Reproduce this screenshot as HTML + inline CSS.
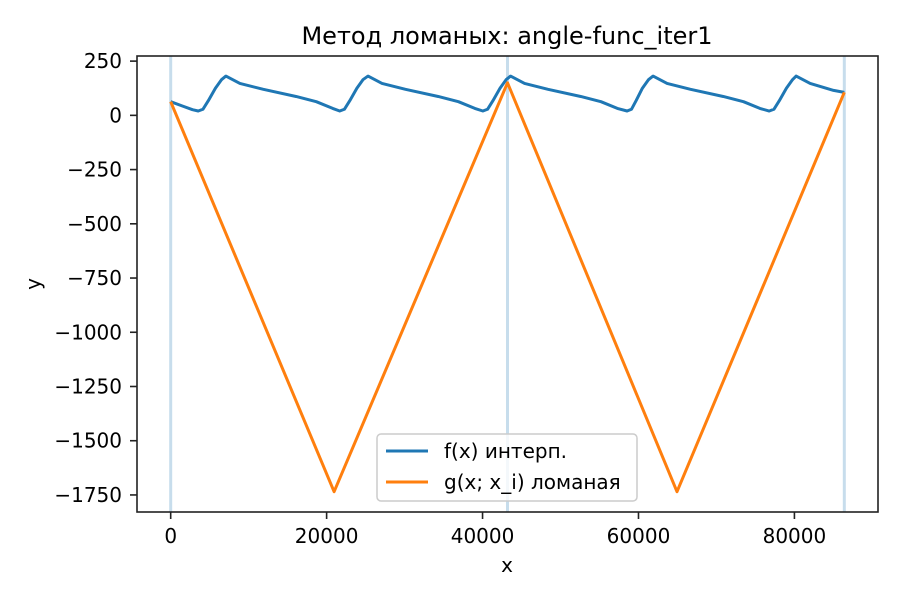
<!DOCTYPE html>
<html><head><meta charset="utf-8"><style>
body{margin:0;background:#fff}
svg text{font-family:"DejaVu Sans","Liberation Sans",sans-serif;fill:#000}
</style></head><body>
<svg id="chart" width="900" height="600" xmlns="http://www.w3.org/2000/svg">
<rect width="900" height="600" fill="#fff"/>
<text x="507" y="44" font-size="24" text-anchor="middle">Метод ломаных: angle-func_iter1</text>
<text x="507" y="572" font-size="20" text-anchor="middle">x</text>
<text x="40" y="284" font-size="20" text-anchor="middle" transform="rotate(-90 40 284)">y</text>
<g id="grid"></g><g id="marks"></g><g id="axes"></g>
</svg>
<script>
const xTicks=[0,20000,40000,60000,80000];
const yTicks=[250,0,-250,-500,-750,-1000,-1250,-1500,-1750];
const vLines=[0,43200,86400];
const fX=[0,1500,2800,3535,4135,4835,5735,6535,7080,8880,11880,16080,18680,20780,21680,22280,22980,23880,24680,25310,27110,30110,34310,36910,39010,40040,40640,41340,42240,43040,43590,45390,48390,52590,55190,57290,58540,59100,59700,60500,61300,61870,63670,66670,70870,73470,75570,76770,77370,78070,78970,79770,80220,82020,85020,86400];
const fY=[63,43,26,20,28,68,125,165,181,147,120,87,63,32,20,28,68,125,165,181,147,120,87,63,32,20,28,68,125,165,181,147,120,87,63,32,20,28,68,125,165,181,147,120,87,63,32,20,28,68,125,165,181,147,115,106];
const gX=[0,20960,43200,64940,86400];
const gY=[63,-1735,150,-1735,106];
const L=137,R=878,T=56,B=512;
const x0=-4320,x1=90720,y0=-1828.6,y1=273.6;
const sx=v=>L+(v-x0)/(x1-x0)*(R-L);
const sy=v=>B-(v-y0)/(y1-y0)*(B-T);
const NS="http://www.w3.org/2000/svg";
function mk(tag,parent,attrs){const e=document.createElementNS(NS,tag);for(const k in attrs)e.setAttribute(k,attrs[k]);parent.appendChild(e);return e;}
const grid=document.getElementById('grid'),marks=document.getElementById('marks'),axes=document.getElementById('axes');
vLines.forEach(v=>{const l=mk('line',grid,{x1:sx(v),x2:sx(v),y1:T,y2:B,stroke:'#1f77b4','stroke-opacity':0.25,'stroke-width':3});

});
const fp=mk('polyline',marks,{points:fX.map((v,i)=>sx(v)+','+sy(fY[i])).join(' '),fill:'none',stroke:'#1f77b4','stroke-width':3,'stroke-linejoin':'round'});


const gp=mk('polyline',marks,{points:gX.map((v,i)=>sx(v)+','+sy(gY[i])).join(' '),fill:'none',stroke:'#ff7f0e','stroke-width':3,'stroke-linejoin':'round'});


const fr=mk('rect',axes,{x:L,y:T,width:R-L,height:B-T,fill:'none',stroke:'#222','stroke-width':1.6});


xTicks.forEach(v=>{mk('line',axes,{x1:sx(v),x2:sx(v),y1:B,y2:B+7,stroke:'#222','stroke-width':1.6});
const t=mk('text',axes,{x:sx(v),y:B+31,'font-size':20,'text-anchor':'middle'});t.textContent=v;

});
yTicks.forEach(v=>{mk('line',axes,{x1:L-7,x2:L,y1:sy(v),y2:sy(v),stroke:'#222','stroke-width':1.6});
const t=mk('text',axes,{x:L-15,y:sy(v)+7,'font-size':20,'text-anchor':'end'});t.textContent=(v<0?'\u2212'+(-v):v);

});
const lg=mk('g',axes,{});


mk('rect',lg,{x:377,y:434,width:260,height:67,rx:4,fill:'#fff','fill-opacity':0.8,stroke:'#ccc','stroke-width':1.5});
mk('line',lg,{x1:386,x2:428,y1:451,y2:451,stroke:'#1f77b4','stroke-width':3});
mk('line',lg,{x1:386,x2:428,y1:482,y2:482,stroke:'#ff7f0e','stroke-width':3});
const t1=mk('text',lg,{x:444,y:458,'font-size':20});t1.textContent='f(x) интерп.';


const t2=mk('text',lg,{x:444,y:489,'font-size':20});t2.textContent='g(x; x_i) ломаная';


</script>
</body></html>
